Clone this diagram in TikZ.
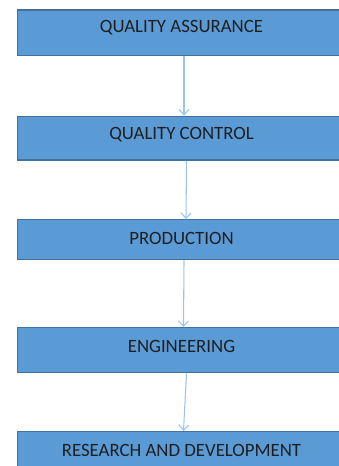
\documentclass[tikz,border=0pt]{standalone}
\usepackage{fontspec}
\setmainfont{Carlito}
\usetikzlibrary{arrows.meta}
\definecolor{boxfill}{HTML}{5B9BD5}
\definecolor{boxline}{HTML}{41719C}
\definecolor{linkblue}{HTML}{9DC3E6}
\begin{document}
\begin{tikzpicture}[x=0.75pt,y=-0.75pt,
  stagebox/.style={draw=boxline,fill=boxfill,line width=1.1pt,rectangle,
    minimum width=329*0.75pt,inner sep=0pt,anchor=north west},
  stagetext/.style={font=\fontsize{14.1}{16}\selectfont,text=black!88,inner sep=0pt},
  link/.style={draw=linkblue,line width=0.8pt,-{Straight Barb[length=4pt,width=7.5pt]}}]
\useasboundingbox (0,0) rectangle (338,466);
% stage boxes (the last one runs off the bottom edge)
\node[stagebox,minimum height=45.7*0.75pt] (b1) at (17,9.3) {};
\node[stagebox,minimum height=43.6*0.75pt] (b2) at (17,115.7) {};
\node[stagebox,minimum height=40*0.75pt] (b3) at (17,219) {};
\node[stagebox,minimum height=45*0.75pt] (b4) at (17,327) {};
\node[stagebox,minimum height=50*0.75pt] (b5) at (17,431) {};
% labels
\node[stagetext] (t1) at (181.5,28) {QUALITY ASSURANCE};
\node[stagetext] (t2) at (181.5,135) {QUALITY CONTROL};
\node[stagetext] (t3) at (181.5,238) {PRODUCTION};
\node[stagetext] (t4) at (181.5,346.5) {ENGINEERING};
\node[stagetext] (t5) at (181.5,450) {RESEARCH AND DEVELOPMENT};
% arrow columns
\coordinate (c1a) at (184,0);   \coordinate (c1b) at (184,0);
\coordinate (c2a) at (186.5,0); \coordinate (c2b) at (186,0);
\coordinate (c3a) at (184,0);   \coordinate (c3b) at (183.5,0);
\coordinate (c4a) at (186.5,0); \coordinate (c4b) at (183.5,0);
% connectors
\draw[link] (b1.south -| c1a) -- (b2.north -| c1b);
\draw[link] (b2.south -| c2a) -- (b3.north -| c2b);
\draw[link] (b3.south -| c3a) -- (b4.north -| c3b);
\draw[link] (b4.south -| c4a) -- (b5.north -| c4b);
\end{tikzpicture}
\end{document}
